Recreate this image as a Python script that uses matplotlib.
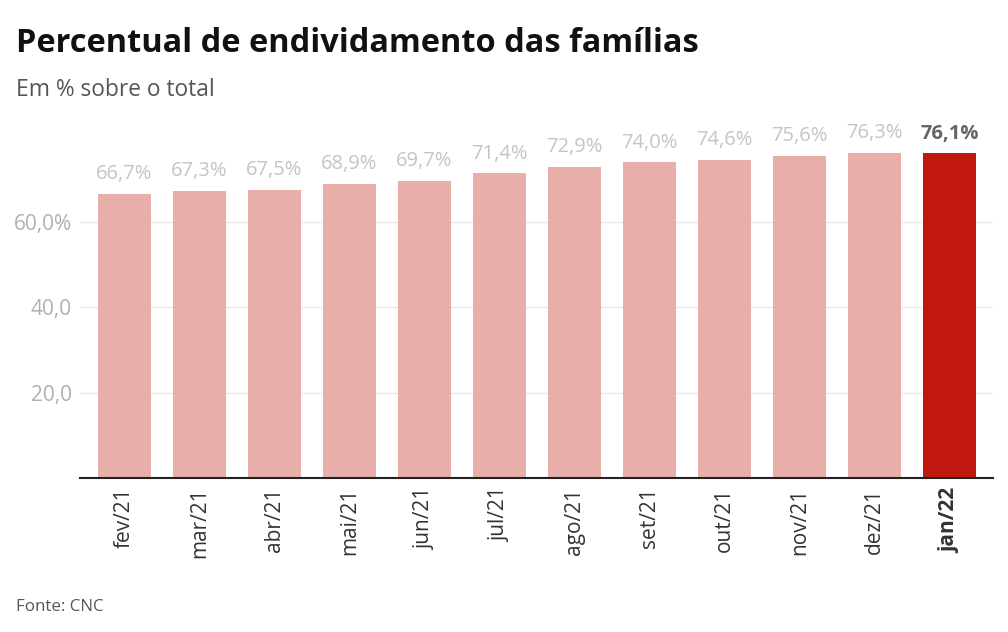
import matplotlib.pyplot as plt

meses = ["fev/21", "mar/21", "abr/21", "mai/21", "jun/21", "jul/21",
         "ago/21", "set/21", "out/21", "nov/21", "dez/21", "jan/22"]
percentual = [66.7, 67.3, 67.5, 68.9, 69.7, 71.4, 72.9, 74.0, 74.6, 75.6, 76.3, 76.1]
yticks = [20, 40, 60]
ytick_labels = ["20,0", "40,0", "60,0%"]

plt.rcParams["font.family"] = ["Open Sans", "DejaVu Sans"]

fig = plt.figure(figsize=(10.08, 6.32), dpi=100)
ax = fig.add_axes([80 / 1008, 1 - 478 / 632, 913 / 1008, 80 * 4.265 / 632])

x = list(range(len(meses)))
cores = ["#e8aeaa"] * (len(meses) - 1) + ["#c0180c"]
ax.bar(x, percentual, width=0.707, color=cores, zorder=2)

for i, v in enumerate(percentual):
    ultimo = i == len(meses) - 1
    ax.annotate(f"{v:.1f}%".replace(".", ","), (i, v), xytext=(0, 7),
                textcoords="offset points", ha="center", va="bottom",
                fontsize=14.5, color="#666666" if ultimo else "#c4c4c4",
                fontweight="bold" if ultimo else "normal")

ax.set_xlim(-44.5 / 75, 11 + 43.5 / 75)
ax.set_ylim(0, 80)
ax.set_yticks(yticks)
ax.set_yticklabels(ytick_labels, fontsize=15, color="#b0b0b0")
ax.set_xticks(x)
ax.set_xticklabels(meses, rotation=90, fontsize=15, color="#333333")
ax.get_xticklabels()[-1].set_fontweight("bold")
ax.tick_params(axis="both", length=0)
ax.tick_params(axis="x", pad=7)
ax.tick_params(axis="y", pad=6)
ax.grid(axis="y", color="#e8e8e8", linewidth=1, zorder=0)
for s in ["top", "right", "left"]:
    ax.spines[s].set_visible(False)
ax.spines["bottom"].set_color("#222222")
ax.spines["bottom"].set_linewidth(1.5)
ax.spines["bottom"].set_zorder(3)

fig.text(16 / 1008, 1 - 52 / 632, "Percentual de endividamento das famílias",
         fontsize=23.4, fontweight="bold", color="#111111", va="baseline")
fig.text(16 / 1008, 1 - 96 / 632, "Em % sobre o total",
         fontsize=16.4, color="#555555", va="baseline")
fig.text(16 / 1008, 1 - 611 / 632, "Fonte: CNC",
         fontsize=12.2, color="#555555", va="baseline")

fig.savefig("out.png", dpi=100)
